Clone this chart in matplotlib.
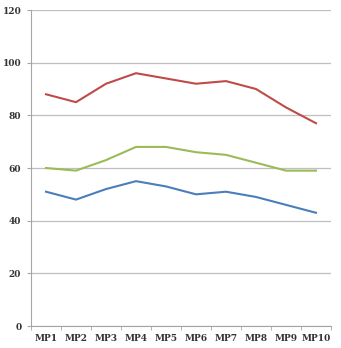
import matplotlib
matplotlib.use("Agg")
import matplotlib.pyplot as plt
import numpy as np

categories = ["MP1", "MP2", "MP3", "MP4", "MP5", "MP6", "MP7", "MP8", "MP9", "MP10"]
red_vals = [88, 85, 92, 96, 94, 92, 93, 90, 83, 77]
green_vals = [60, 59, 63, 68, 68, 66, 65, 62, 59, 59]
blue_vals = [51, 48, 52, 55, 53, 50, 51, 49, 46, 43]

fig = plt.figure(figsize=(3.41, 3.48), dpi=100)
ax = fig.add_axes([31 / 341, 22 / 348, 300 / 341, 316 / 348])

x = np.arange(len(categories))
ax.plot(x, red_vals, color="#BE4B48", lw=1.5)
ax.plot(x, green_vals, color="#9BBB59", lw=1.5)
ax.plot(x, blue_vals, color="#4A7EBB", lw=1.5)

ax.set_xlim(-0.5, len(categories) - 0.5)
ax.set_ylim(0, 120)
ax.set_yticks(range(0, 121, 20))
ax.set_xticks(x)
ax.set_xticklabels(categories)
ax.set_xticks(np.arange(-0.5, len(categories), 1), minor=True)

ax.yaxis.grid(True, color="#BFBFBF", lw=0.9)
ax.set_axisbelow(True)
for s in ["top", "right"]:
    ax.spines[s].set_visible(False)
ax.spines["left"].set_color("#A6A6A6")
ax.spines["bottom"].set_color("#A6A6A6")

ax.tick_params(axis="x", which="major", length=0, pad=6)
ax.tick_params(axis="x", which="minor", length=3, color="#A6A6A6")
ax.tick_params(axis="y", length=3, color="#A6A6A6", pad=4)
for lab in ax.get_xticklabels() + ax.get_yticklabels():
    lab.set_fontfamily("DejaVu Serif")
    lab.set_fontsize(6.5)
    lab.set_fontweight("bold")
    lab.set_color("#333333")

fig.savefig("out.png", dpi=100)
